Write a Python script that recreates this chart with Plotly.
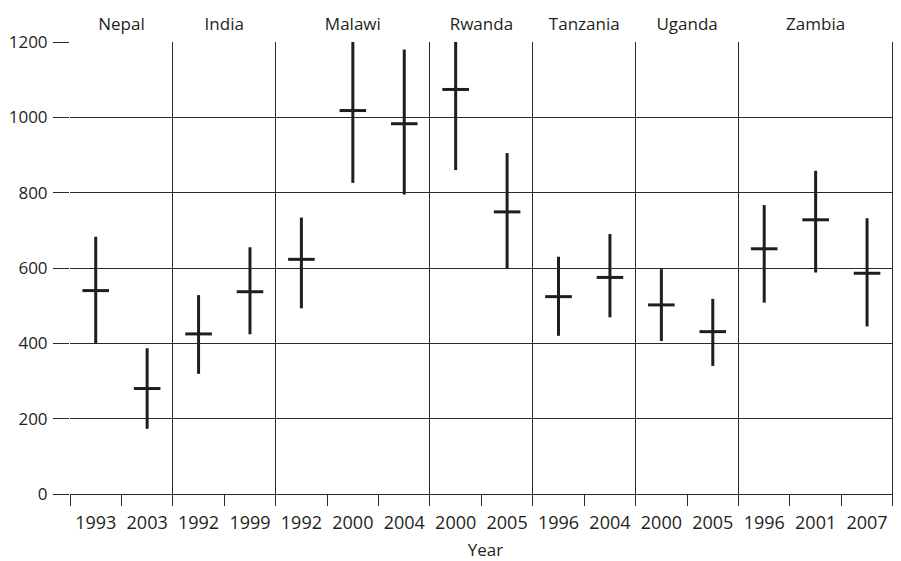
import plotly.graph_objects as go

# ---- data ----
countries = ["Nepal", "India", "Malawi", "Rwanda", "Tanzania", "Uganda", "Zambia"]
years_per_country = [["1993", "2003"], ["1992", "1999"], ["1992", "2000", "2004"],
                     ["2000", "2005"], ["1996", "2004"], ["2000", "2005"],
                     ["1996", "2001", "2007"]]
estimate = [540, 280, 425, 537, 623, 1018, 983, 1074, 749, 524, 575, 502, 431, 651, 728, 586]
lower = [400, 173, 319, 424, 493, 826, 795, 860, 599, 420, 469, 406, 340, 508, 588, 445]
upper = [683, 387, 528, 655, 734, 1200, 1180, 1200, 905, 630, 690, 597, 518, 767, 858, 732]
y_ticks = [0, 200, 400, 600, 800, 1000, 1200]

# ---- derived positions (slot indices) ----
year_labels = [y for ys in years_per_country for y in ys]
n = len(year_labels)
centers = [i + 0.5 for i in range(n)]
bounds = [0]
for ys in years_per_country:
    bounds.append(bounds[-1] + len(ys))
group_centers = [(bounds[i] + bounds[i + 1]) / 2 for i in range(len(countries))]

ink = "#1e1e1e"
grid = "#2a2a2a"
xr = [0, n + 0.16]

fig = go.Figure()
fig.add_trace(go.Scatter(
    x=centers, y=estimate, mode="markers",
    marker=dict(symbol="line-ew", size=19, color=ink, line=dict(width=3, color=ink)),
    error_y=dict(type="data", symmetric=False,
                 array=[u - e for u, e in zip(upper, estimate)],
                 arrayminus=[e - l for e, l in zip(estimate, lower)],
                 thickness=3, width=0, color=ink),
    showlegend=False, hoverinfo="skip",
))
# helper invisible traces so overlay axes are registered
fig.add_trace(go.Scatter(x=[bounds[0]], y=[0], xaxis="x2", mode="markers",
                         marker=dict(opacity=0), showlegend=False, hoverinfo="skip"))
fig.add_trace(go.Scatter(x=[bounds[0]], y=[0], xaxis="x3", mode="markers",
                         marker=dict(opacity=0), showlegend=False, hoverinfo="skip"))

# the page body has an 8px margin, so the figure is made 8px smaller each way
fig.update_layout(
    width=893, height=553,
    margin=dict(l=62, r=0, t=34, b=67),
    paper_bgcolor="white", plot_bgcolor="white",
    font=dict(family="Open Sans", size=18, color="#231f20"),
    xaxis=dict(
        range=xr, tickmode="array", tickvals=centers, ticktext=year_labels,
        ticks="outside", ticklen=11, tickcolor="rgba(0,0,0,0)",
        ticklabelstandoff=1, automargin=False,
        minor=dict(tickmode="linear", tick0=0, dtick=1, ticks="outside",
                   ticklen=11, tickwidth=1.3, tickcolor=grid, showgrid=False),
        showgrid=False, zeroline=False, showline=True, linecolor=grid, linewidth=1.3,
        title=dict(text="Year", standoff=13, font=dict(size=17)),
    ),
    xaxis2=dict(
        range=xr, overlaying="x", anchor="y", side="bottom", automargin=False,
        tickmode="array", tickvals=bounds, showticklabels=False, ticks="",
        showgrid=True, gridcolor=grid, gridwidth=1.3, zeroline=False, showline=False,
    ),
    xaxis3=dict(
        range=xr, overlaying="x", anchor="y", side="top", automargin=False,
        tickmode="array", tickvals=group_centers, ticktext=countries, ticks="",
        ticklabelstandoff=8, tickfont=dict(size=17),
        showgrid=False, zeroline=False, showline=False,
    ),
    yaxis=dict(
        range=[0, 1200], tickmode="array", tickvals=y_ticks, automargin=False,
        ticks="outside", ticklen=16, tickwidth=1.3, tickcolor=grid,
        ticklabelstandoff=2, tickfont=dict(size=17),
        showgrid=True, gridcolor=grid, gridwidth=1.3, zeroline=False, showline=False,
    ),
)

fig.write_html("out.html")
